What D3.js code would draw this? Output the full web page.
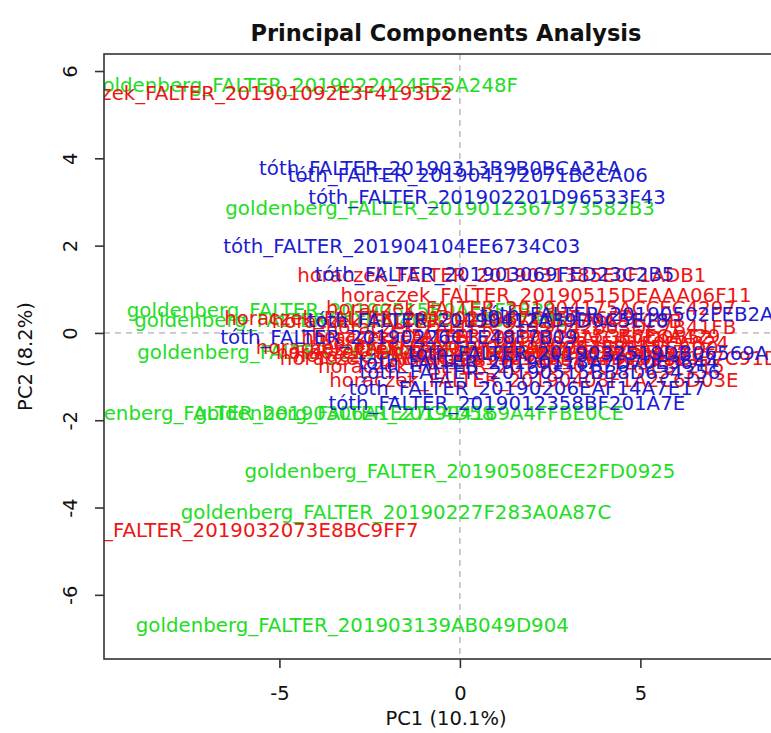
<!DOCTYPE html>
<html>
<head>
<meta charset="utf-8">
<script src="https://d3js.org/d3.v7.min.js"></script>
<style>
  body { margin: 0; background: #fff; }
  text { font-family: "DejaVu Sans", sans-serif; }
</style>
</head>
<body>
<script>
// sample labels and their scores on the first two components
var sampleNames = [
  "goldenberg_FALTER_2019022024EE5A248F",
  "goldenberg_FALTER_2019012367373582B3",
  "goldenberg_FALTER_20190515B0AE4F2B29",
  "goldenberg_FALTER_20190405C1D28E7A90",
  "goldenberg_FALTER_2019041172D0E6B5A3",
  "goldenberg_FALTER_20190306A1E27C4D58",
  "goldenberg_FALTER_201904169A4FFBE0CE",
  "goldenberg_FALTER_20190508ECE2FD0925",
  "goldenberg_FALTER_20190227F283A0A87C",
  "goldenberg_FALTER_201903139AB049D904",
  "horaczek_FALTER_201901092E3F4193D2",
  "horaczek_FALTER_2019031385E0F1ADB1",
  "horaczek_FALTER_20190515DEAAA06F11",
  "horaczek_FALTER_201904175ACCEC4297",
  "horaczek_FALTER_20190219B7C0E5A6D3",
  "horaczek_FALTER_20190122F4D9A81C0B",
  "horaczek_FALTER_2019042603DC7B41FB",
  "horaczek_FALTER_201901315CB6E6A429",
  "horaczek_FALTER_201903275D1F0EA824",
  "horaczek_FALTER_20190214E0B7C91D68",
  "horaczek_FALTER_20190402A6C93E81F5",
  "horaczek_FALTER_20190110B2E4D7093C",
  "horaczek_FALTER_2019032073E8BC9FF7",
  "horaczek_FALTER_20190408F1A2C6D03E",
  "horaczek_FALTER_2019031849E0AC5B7D",
  "horaczek_FALTER_20190129AC3E7D0B52",
  "horaczek_FALTER_201902054F8EA1C6D0",
  "horaczek_FALTER_20190411D2B6E09A7C",
  "horaczek_FALTER_20190301C7A4E8F215",
  "tóth_FALTER_20190313B9B0BCA31A",
  "tóth_FALTER_201904172071BCCA06",
  "tóth_FALTER_201902201D96533F43",
  "tóth_FALTER_201904104EE6734C03",
  "tóth_FALTER_201903069FED23C2B5",
  "tóth_FALTER_20190502FEB2A7C613",
  "tóth_FALTER_20190412A39D0C5E18",
  "tóth_FALTER_20190226C1E48F7B09",
  "tóth_FALTER_2019032519DB06569A",
  "tóth_FALTER_20190118A7D70E3644",
  "tóth_FALTER_20190515BB8D634356",
  "tóth_FALTER_20190206EAF14A7E17",
  "tóth_FALTER_2019012358BF201A7E"
];
var pc1Values = [
  -4.32, -0.55, -3.27, -3.02, -2.94, -5.05, -1.40, 0.00, -1.77, -2.98,
  -5.84, 1.16, 2.39, 1.97, -0.83, 0.47, 1.97, 1.55, 1.80, 3.85,
  -0.02, 0.70, -6.76, 2.05, 0.60, 1.30, 1.50, 1.10, 1.70,
  -0.55, 0.22, 0.75, -1.61, 0.96, 5.51, 0.78, -1.69, 3.55, 2.17, 2.22, 1.86, 1.30
];
var pc2Values = [
  5.68, 2.86, 0.53, 0.30, -0.44, -1.83, -1.83, -3.16, -4.09, -6.69,
  5.50, 1.33, 0.87, 0.57, 0.34, 0.28, 0.14, -0.07, -0.23, -0.57,
  -0.32, -0.57, -4.51, -1.08, -0.44, -0.09, -0.35, -0.50, -0.75,
  3.78, 3.62, 3.12, 2.00, 1.35, 0.43, 0.30, -0.09, -0.46, -0.66, -0.89, -1.26, -1.60
];
var groupNames = ["goldenberg", "horaczek", "tóth"];
var groupColors = ["#22dd22", "#ee1515", "#1c1cd0"];
var xTicks = [-5, 0, 5];
var yTicks = [-6, -4, -2, 0, 2, 4, 6];

var W = 771, H = 733;
var plot = { left: 104, right: 788, top: 54, bottom: 659 };

var svg = d3.select("body").append("svg")
  .attr("width", W)
  .attr("height", H);

var x = d3.scaleLinear().domain([-9.86, 9.09]).range([plot.left, plot.right]);
var y = d3.scaleLinear().domain([-7.47, 6.39]).range([plot.bottom, plot.top]);
var color = d3.scaleOrdinal().domain(groupNames).range(groupColors);

svg.append("clipPath").attr("id", "plotclip")
  .append("rect")
  .attr("x", plot.left).attr("y", plot.top)
  .attr("width", plot.right - plot.left)
  .attr("height", plot.bottom - plot.top);

// reference lines at zero
svg.append("line")
  .attr("x1", x(0)).attr("x2", x(0))
  .attr("y1", plot.top).attr("y2", plot.bottom)
  .attr("stroke", "#9a9a9a").attr("stroke-dasharray", "6,5");
svg.append("line")
  .attr("x1", plot.left).attr("x2", plot.right)
  .attr("y1", y(0)).attr("y2", y(0))
  .attr("stroke", "#9a9a9a").attr("stroke-dasharray", "6,5");

// labels
var rows = sampleNames.map(function (n, i) {
  return { name: n, pc1: pc1Values[i], pc2: pc2Values[i], group: n.split("_")[0] };
});

svg.append("g")
  .attr("clip-path", "url(#plotclip)")
  .selectAll("text")
  .data(rows)
  .enter()
  .append("text")
  .attr("x", function (d) { return x(d.pc1); })
  .attr("y", function (d) { return y(d.pc2); })
  .attr("dy", "0.36em")
  .attr("text-anchor", "middle")
  .attr("font-size", 19.8)
  .attr("fill", function (d) { return color(d.group); })
  .text(function (d) { return d.name; });

// box
svg.append("rect")
  .attr("x", plot.left).attr("y", plot.top)
  .attr("width", plot.right - plot.left)
  .attr("height", plot.bottom - plot.top)
  .attr("fill", "none")
  .attr("stroke", "#333")
  .attr("stroke-width", 1.6);

// axes
var fmt = function (d) { return String(d); };
var gx = svg.append("g")
  .attr("transform", "translate(0," + plot.bottom + ")")
  .call(d3.axisBottom(x).tickValues(xTicks).tickSize(9).tickPadding(0).tickFormat(fmt));
gx.select(".domain").remove();
gx.selectAll("line").attr("stroke", "#333").attr("stroke-width", 1.6);
gx.selectAll("text")
  .attr("y", 41).attr("dy", 0)
  .attr("font-size", 19.5)
  .attr("font-family", "DejaVu Sans")
  .attr("fill", "#111");

var gy = svg.append("g")
  .attr("transform", "translate(" + plot.left + ",0)")
  .call(d3.axisLeft(y).tickValues(yTicks).tickSize(9).tickFormat(fmt));
gy.select(".domain").remove();
gy.selectAll("line").attr("stroke", "#333").attr("stroke-width", 1.6);
gy.selectAll("text")
  .attr("transform", "rotate(-90)")
  .attr("x", 0).attr("y", -27).attr("dy", 0)
  .attr("text-anchor", "middle")
  .attr("font-size", 19.5)
  .attr("font-family", "DejaVu Sans")
  .attr("fill", "#111");

// titles
var cx = (plot.left + plot.right) / 2;
svg.append("text")
  .attr("x", cx).attr("y", 41)
  .attr("text-anchor", "middle")
  .attr("font-size", 22.5)
  .attr("font-weight", "bold")
  .attr("fill", "#111")
  .text("Principal Components Analysis");

svg.append("text")
  .attr("x", cx).attr("y", 725)
  .attr("text-anchor", "middle")
  .attr("font-size", 19.5)
  .attr("fill", "#111")
  .text("PC1 (10.1%)");

svg.append("text")
  .attr("transform", "translate(32," + ((plot.top + plot.bottom) / 2) + ") rotate(-90)")
  .attr("text-anchor", "middle")
  .attr("font-size", 19.5)
  .attr("fill", "#111")
  .text("PC2 (8.2%)");
</script>
</body>
</html>
